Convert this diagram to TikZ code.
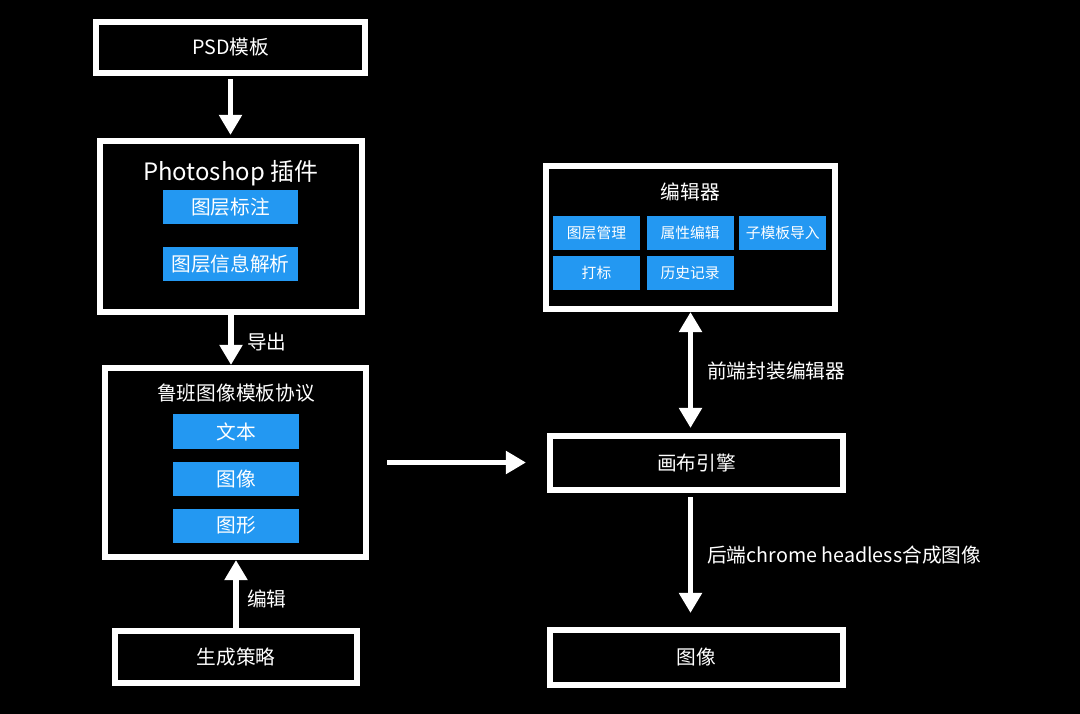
\documentclass[tikz,border=0pt]{standalone}
\usepackage{fontspec}
\setmainfont{Noto Sans CJK SC}
\usepackage{xcolor}
\usepackage{tikz}
\usetikzlibrary{arrows.meta, positioning}
\definecolor{itemblue}{RGB}{35,152,242}
\tikzset{
  box/.style={rectangle, draw=white, line width=4pt, fill=black, text=white, font=\fontsize{14}{16}\selectfont},
  item/.style={rectangle, fill=itemblue, text=white, minimum width=3.375cm, minimum height=0.85cm, inner sep=0pt, font=\fontsize{14}{16}\selectfont},
  smallitem/.style={item, minimum width=2.175cm, minimum height=0.85cm, font=\fontsize{10.5}{12}\selectfont},
  title/.style={text=white, inner sep=0pt, font=\fontsize{14}{16}\selectfont},
  lbl/.style={text=white, anchor=west, inner sep=0pt, font=\fontsize{14}{16}\selectfont},
  arrow/.style={draw=white, line width=4pt, -{Triangle[width=0.55cm, length=0.5cm]}},
  dblarrow/.style={arrow, {Triangle[width=0.55cm, length=0.5cm]}-{Triangle[width=0.55cm, length=0.5cm]}}
}

\begin{document}
\begin{tikzpicture}[x=0.025cm, y=-0.025cm]
\fill[black] (0,0) rectangle (1080,714);

\node[box, minimum width=6.735cm, minimum height=1.285cm] (psd) at (230.5,47.5) {PSD模板};
\node[box, minimum width=6.56cm, minimum height=4.285cm] (ps) at (231,226.5) {};
\node[box, minimum width=6.535cm, minimum height=4.735cm] (luban) at (235.5,462.5) {};
\node[box, minimum width=6.06cm, minimum height=1.31cm] (strategy) at (236,657) {生成策略};
\node[box, minimum width=7.235cm, minimum height=3.585cm] (editor) at (690.5,237.5) {};
\node[box, minimum width=7.335cm, minimum height=1.36cm] (canvas) at (696.5,463) {画布引擎};
\node[box, minimum width=7.335cm, minimum height=1.385cm] (image) at (696.5,657.5) {图像};

\node[title, font=\fontsize{17}{20}\selectfont] (pstitle) at (230.5,173) {Photoshop 插件};
\node[item] (layertag) at (230.5,207) {图层标注};
\node[item, below=0.55cm of layertag] (layerparse) {图层信息解析};

\node[title] (lubantitle) at (236,393) {鲁班图像模板协议};
\node[item, minimum width=3.15cm] (text) at (236,431.5) {文本};
\node[item, minimum width=3.15cm, below=0.325cm of text] (img) {图像};
\node[item, minimum width=3.15cm, below=0.3cm of img] (shape) {图形};

\node[title] (edtitle) at (690.5,192) {编辑器};
\node[smallitem] (manage) at (596.5,233) {图层管理};
\node[smallitem, right=0.15cm of manage] (attr) {属性编辑};
\node[smallitem, right=0.125cm of attr] (subtpl) {子模板导入};
\node[smallitem, below=0.125cm of manage] (mark) {打标};
\node[smallitem, below=0.125cm of attr] (history) {历史记录};

\draw[arrow, shorten <=0.075cm, shorten >=0.075cm] (psd.south) -- (psd.south |- ps.north);
\draw[arrow] (ps.south) -- (ps.south |- luban.north);
\node[lbl] (export) at (247,342) {导出};
\draw[arrow] (strategy.north) -- (strategy.north |- luban.south);
\node[lbl] (edit) at (247,599) {编辑};
\draw[arrow, shorten <=0.45cm, shorten >=0.525cm] (luban.east) -- (luban.east -| canvas.west);

\draw[dblarrow, shorten >=0.125cm] (editor.south) -- (editor.south |- canvas.north);
\node[lbl] (frontend) at (707,371) {前端封装编辑器};
\draw[arrow, shorten <=0.1cm, shorten >=0.35cm] (editor.south |- canvas.south) -- (editor.south |- image.north);
\node[lbl] (backend) at (707,555) {后端chrome headless合成图像};
\end{tikzpicture}
\end{document}
